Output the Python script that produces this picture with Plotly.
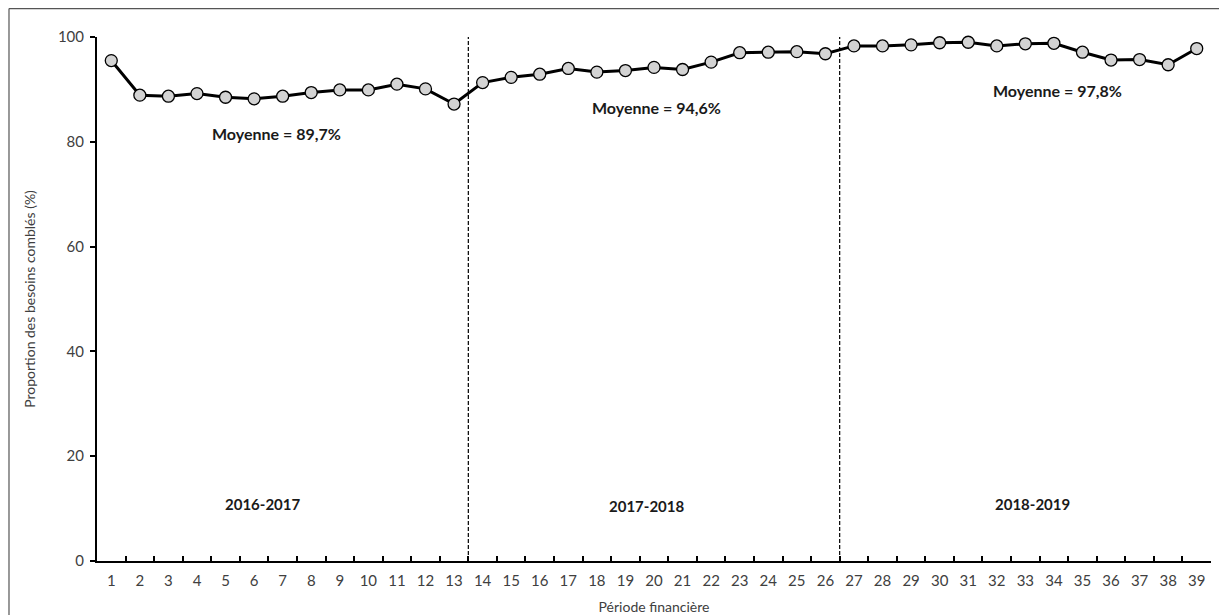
import plotly.graph_objects as go

periodes = [str(i) for i in range(1, 40)]
proportion = [95.5, 88.9, 88.7, 89.2, 88.5, 88.2, 88.7, 89.4, 89.9, 89.9, 91.0, 90.1, 87.2,
              91.3, 92.3, 92.9, 94.0, 93.3, 93.6, 94.2, 93.8, 95.2, 97.0, 97.1, 97.2, 96.8,
              98.3, 98.3, 98.5, 98.9, 99.0, 98.3, 98.7, 98.8, 97.1, 95.6, 95.7, 94.7, 97.8]
separateurs = [12.5, 25.5]
moyennes = ["Moyenne = 89,7%", "Moyenne = 94,6%", "Moyenne = 97,8%"]
moy_pos = [(5.78, 81.5), (19.07, 86.6), (33.13, 89.8)]
annees = ["2016-2017", "2017-2018", "2018-2019"]
annee_pos = [(5.29, 10.9), (18.74, 10.5), (32.26, 10.9)]

FONT = "Lato, 'Open Sans', sans-serif"

fig = go.Figure()
fig.add_trace(go.Scatter(
    x=periodes, y=proportion, mode="lines+markers",
    line=dict(color="black", width=3),
    marker=dict(size=12, color="#d3d3d3", line=dict(color="black", width=1.3)),
    showlegend=False, cliponaxis=False,
))

shapes = []
for s in separateurs:
    shapes.append(dict(type="line", xref="x", yref="y", x0=s, x1=s, y0=0, y1=100,
                       line=dict(color="black", width=1.2, dash="4px,2px")))
# outer chart border (left and top)
shapes.append(dict(type="line", xref="paper", yref="paper", x0=-0.0790, x1=-0.0790,
                   y0=1.0542, y1=-0.13, line=dict(color="#555555", width=1.2)))
shapes.append(dict(type="line", xref="paper", yref="paper", x0=-0.0790, x1=1.03,
                   y0=1.0542, y1=1.0542, line=dict(color="#555555", width=1.2)))

annotations = []
for t, (x, y) in zip(moyennes, moy_pos):
    annotations.append(dict(x=x, y=y, xref="x", yref="y", text="<b>" + t + "</b>",
                            showarrow=False, font=dict(size=16, color="#1a1a1a", family=FONT)))
for t, (x, y) in zip(annees, annee_pos):
    annotations.append(dict(x=x, y=y, xref="x", yref="y", text="<b>" + t + "</b>",
                            showarrow=False, font=dict(size=15, color="#1a1a1a", family=FONT)))

fig.update_layout(
    width=1227, height=615,
    margin=dict(l=89, r=24, t=29, b=62),
    plot_bgcolor="white", paper_bgcolor="white",
    font=dict(family=FONT, size=15, color="#404040"),
    shapes=shapes, annotations=annotations,
    xaxis=dict(
        type="category", range=[-0.5, 38.5], automargin=False,
        showline=True, linecolor="black", linewidth=2,
        ticks="inside", tickson="boundaries", ticklen=5, tickwidth=1.5, tickcolor="black",
        ticklabelstandoff=5,
        showgrid=False, zeroline=False,
        tickfont=dict(size=15, color="#404040", family=FONT),
        title=dict(text="Période financière", standoff=14,
                   font=dict(size=14, color="#404040", family=FONT)),
    ),
    yaxis=dict(
        range=[0, 100], tickvals=[0, 20, 40, 60, 80, 100], automargin=False,
        showline=True, linecolor="black", linewidth=2,
        ticks="outside", ticklen=5, tickwidth=1.5, tickcolor="black",
        ticklabelstandoff=3,
        showgrid=False, zeroline=False,
        tickfont=dict(size=15, color="#404040", family=FONT),
        title=dict(text="Proportion des besoins comblés (%)", standoff=19,
                   font=dict(size=14, color="#404040", family=FONT)),
    ),
)

fig.write_html("out.html")
